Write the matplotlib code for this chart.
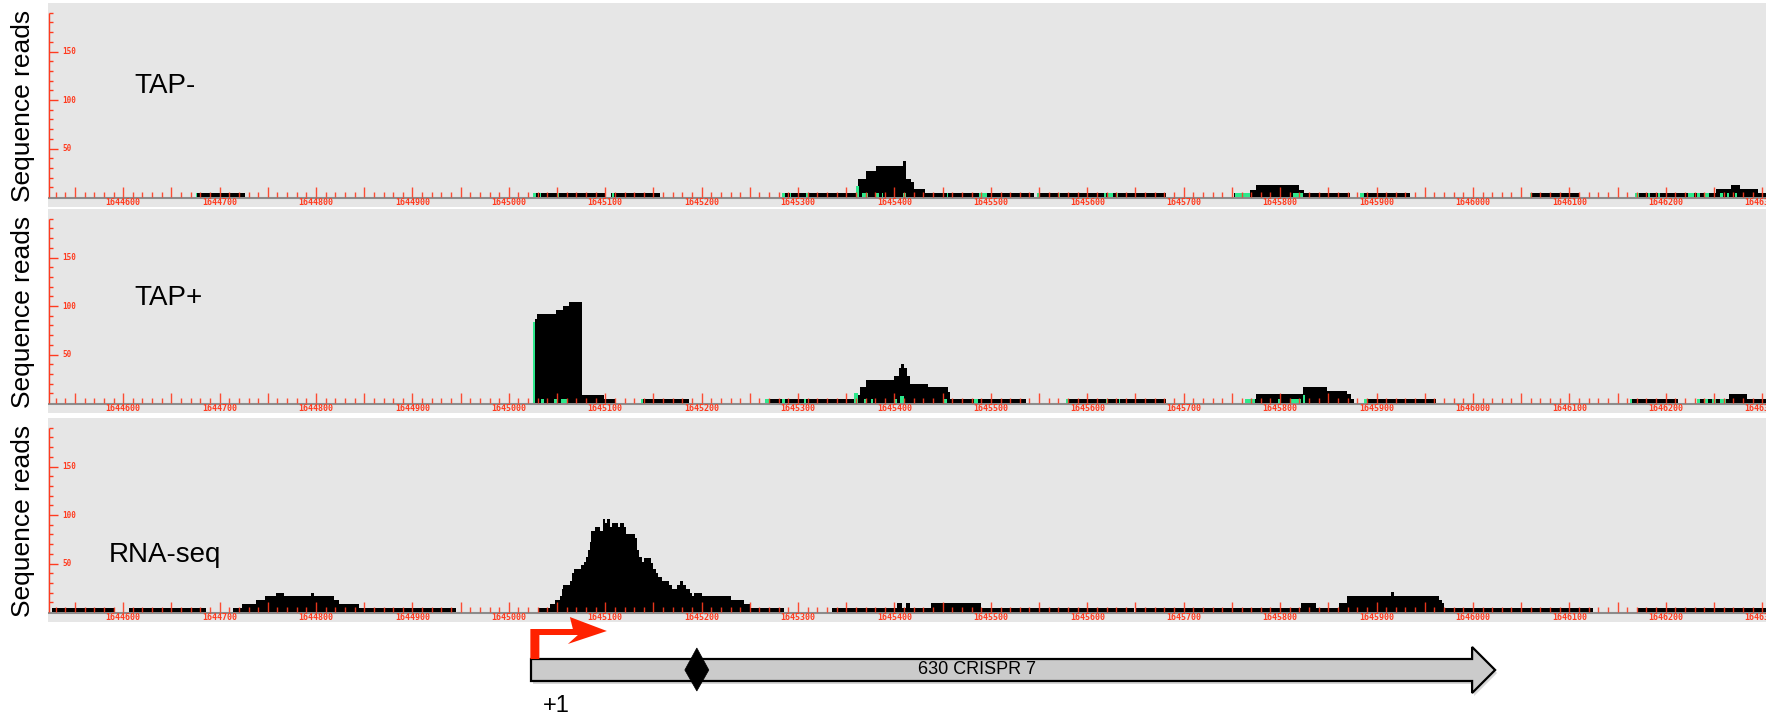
import numpy as np
import matplotlib
matplotlib.use('Agg')
import matplotlib.pyplot as plt
from matplotlib.patches import Polygon

# read coverage per track: reads[i] runs from edges[i] to edges[i+1]
tapm_edges = [1644676, 1644726, 1645025, 1645100, 1645106, 1645157, 1645283, 1645362, 1645370,
              1645381, 1645409, 1645412, 1645417, 1645420, 1645432, 1645545, 1645549, 1645682,
              1645752, 1645769, 1645775, 1645820, 1645825, 1645873, 1645883, 1645935, 1646059,
              1646110, 1646168, 1646252, 1646268, 1646277, 1646296, 1646310]
tapm_reads = [4, 0, 4, 0, 4, 0, 4, 19, 27, 32, 37, 19, 15, 8, 4, 0, 4, 0, 4, 7, 12, 7, 4, 0,
              4, 0, 4, 0, 4, 8, 12, 8, 4]

tapp_edges = [1645027, 1645029, 1645049, 1645056, 1645062, 1645076, 1645099, 1645110, 1645137,
              1645187, 1645266, 1645358, 1645364, 1645370, 1645400, 1645405, 1645407, 1645410,
              1645413, 1645416, 1645435, 1645456, 1645458, 1645536, 1645578, 1645682, 1645764,
              1645775, 1645824, 1645849, 1645869, 1645874, 1645877, 1645888, 1645962, 1646163,
              1646213, 1646234, 1646266, 1646284, 1646310]
tapp_reads = [87, 92, 96, 100, 104, 8, 4, 0, 4, 0, 4, 8, 16, 24, 28, 36, 40, 36, 28, 20, 16, 11,
              4, 0, 4, 0, 4, 9, 16, 12, 9, 4, 0, 4, 0, 4, 0, 4, 9, 4]

rna_edges = [1644526, 1644592, 1644606, 1644686, 1644714, 1644723, 1644738, 1644747, 1644759,
             1644767, 1644795, 1644798, 1644819, 1644824, 1644845, 1644945,
             1645030, 1645043, 1645048, 1645053, 1645055, 1645056, 1645063, 1645066, 1645068,
             1645075, 1645078, 1645080, 1645082, 1645084, 1645085, 1645089, 1645095, 1645098,
             1645100, 1645102, 1645105, 1645107, 1645113, 1645115, 1645119, 1645122, 1645131,
             1645133, 1645135, 1645138, 1645140, 1645147, 1645150, 1645153, 1645155, 1645159,
             1645166, 1645169, 1645174, 1645178, 1645181, 1645184, 1645188, 1645190, 1645192,
             1645200, 1645230, 1645244, 1645250, 1645285,
             1645335, 1645403, 1645408, 1645412, 1645416, 1645438, 1645490, 1645648, 1645651,
             1645822, 1645837, 1645861, 1645869, 1645915, 1645918, 1645965, 1645968, 1645970,
             1646125, 1646171, 1646310]
rna_reads = [4, 0, 4, 0, 4, 8, 12, 16, 20, 16, 20, 16, 12, 8, 4, 0,
             4, 8, 12, 16, 24, 28, 32, 40, 44, 48, 52, 57, 64, 72, 84, 88, 84, 96, 92, 96, 88,
             92, 88, 92, 88, 80, 76, 64, 57, 52, 56, 51, 44, 40, 36, 32, 28, 24, 28, 32, 28, 24,
             20, 16, 20, 16, 12, 8, 4, 0,
             4, 9, 4, 9, 4, 9, 4, 0, 4, 9, 4, 9, 17, 21, 17, 12, 9, 4, 0, 4]

# green read starts (start, end, height)
tapm_green_start = [1644675, 1645025, 1645032, 1645050, 1645107, 1645283, 1645292, 1645308, 1645360,
                    1645366, 1645381, 1645387, 1645409, 1645455, 1645488, 1645548, 1645571, 1645617,
                    1645621, 1645631, 1645753, 1645813, 1645883, 1646059, 1646168, 1646182, 1646192,
                    1646223, 1646232, 1646240, 1646256, 1646264, 1646272]
tapm_green_end = [1644677, 1645028, 1645033, 1645052, 1645109, 1645286, 1645293, 1645310, 1645363,
                  1645373, 1645384, 1645388, 1645412, 1645456, 1645496, 1645551, 1645572, 1645619,
                  1645627, 1645632, 1645769, 1645824, 1645887, 1646061, 1646172, 1646184, 1646194,
                  1646229, 1646236, 1646245, 1646259, 1646266, 1646274]
tapm_green_h = [4, 4, 4, 4, 4, 4, 4, 4, 11, 4, 4, 4, 4, 4, 4, 4, 4, 4,
                4, 4, 4, 4, 4, 4, 4, 4, 4, 4, 4, 4, 4, 4, 4]

tapp_green_start = [1645025, 1645033, 1645047, 1645054, 1645137, 1645266, 1645283, 1645306, 1645358,
                    1645368, 1645376, 1645400, 1645406, 1645451, 1645483, 1645578, 1645619, 1645633,
                    1645764, 1645798, 1645811, 1645824, 1645887, 1646163, 1646232, 1646240, 1646248,
                    1646256]
tapp_green_end = [1645027, 1645036, 1645050, 1645060, 1645139, 1645270, 1645286, 1645308, 1645362,
                  1645370, 1645378, 1645403, 1645410, 1645454, 1645487, 1645580, 1645621, 1645634,
                  1645774, 1645800, 1645822, 1645826, 1645890, 1646165, 1646236, 1646244, 1646252,
                  1646262]
tapp_green_h = [84, 4, 4, 4, 4, 4, 4, 4, 10, 4, 4, 4, 7, 4, 4, 4, 4, 4,
                4, 4, 4, 8, 4, 4, 4, 4, 4, 4]

track_names = ['TAP-', 'TAP+', 'RNA-seq']
ylabel = 'Sequence reads'

# gene annotation
gene_start, gene_end = 1645023, 1646023
gene_name = '630 CRISPR 7'
tss = 1645027
crispr_site = 1645195

# layout (pixels)
W, H = 1766, 715
x_left, x_right = 1644522, 1646304
px = (x_right - x_left) / (W - 48)   # bp per pixel
panel_tops = [3, 209, 418]
panel_h = 204
red = '#ff3b1f'
sans = ['Liberation Sans', 'DejaVu Sans']

fig = plt.figure(figsize=(W / 100, H / 100), dpi=100)


def draw_track(top, edges, reads, g_start, g_end, g_h, name, name_x, name_y, name_size):
    ax = fig.add_axes([48 / W, 1 - (top + panel_h) / H, (W - 48) / W, panel_h / H])
    ax.set_facecolor('#e6e6e6')
    ax.set_xlim(x_left, x_right)
    ax.set_ylim(-10.3, 200)
    for s in ax.spines.values():
        s.set_visible(False)
    ax.set_xticks([])
    ax.set_yticks([])

    ax.fill_between(edges, np.append(reads, 0), step='post', color='black', lw=0, zorder=2)
    if g_start:
        ax.bar(g_start, g_h, width=np.subtract(g_end, g_start), align='edge',
               color='#2ee88c', lw=0, zorder=3)

    # baseline
    ax.axhline(-1.0, color='#8c8c8c', lw=1.5, zorder=1)

    # x ruler
    xt = np.arange(1644530, 1646310, 10)
    ax.vlines(xt, 0, np.where(xt % 50 == 0, 10, 5), color=red, lw=1, alpha=0.9, zorder=4)
    for v in range(1644600, 1646301, 100):
        ax.text(v, -5.8, str(v), ha='center', va='center', fontsize=6, fontweight='bold',
                family='DejaVu Sans Mono', color=red, clip_on=True)

    # y ruler
    yt = np.arange(10, 200, 10)
    ax.vlines(x_left + 0.6 * px, 0, 190, color=red, lw=1, zorder=4)
    ax.hlines(yt, x_left + 0.6 * px, x_left + np.where(yt % 50 == 0, 10, 5) * px,
              color=red, lw=1, zorder=4)
    for v in (50, 100, 150):
        ax.text(x_left + 14 * px, v, str(v), ha='left', va='center', fontsize=5.5,
                fontweight='bold', family='DejaVu Sans Mono', color=red)

    ax.text(x_left + name_x * px, name_y, name, ha='left', va='baseline',
            fontsize=name_size, family=sans, color='black')

    fig.text(23 / W, 1 - (top + 103) / H, ylabel, rotation=90, ha='center', va='center',
             fontsize=19, family=sans)
    return ax


draw_track(panel_tops[0], tapm_edges, tapm_reads, tapm_green_start, tapm_green_end, tapm_green_h,
           track_names[0], 86, 107, 20)
draw_track(panel_tops[1], tapp_edges, tapp_reads, tapp_green_start, tapp_green_end, tapp_green_h,
           track_names[1], 86, 101, 20)
draw_track(panel_tops[2], rna_edges, rna_reads, [], [], [],
           track_names[2], 61, 52, 20)

# gene track, 1 unit = 1 pixel
gx = fig.add_axes([48 / W, 0, (W - 48) / W, 100 / H])
gx.set_xlim(x_left, x_right)
gx.set_ylim(0, 100)
gx.axis('off')

head = 23 * px
body = [(gene_start, 34), (gene_end - head, 34), (gene_end - head, 22), (gene_end, 45),
        (gene_end - head, 68), (gene_end - head, 56), (gene_start, 56)]
shadow = [(x + 2 * px, y - 3) for x, y in body]
gx.add_patch(Polygon(shadow, closed=True, facecolor='#b0b0b0', edgecolor='none', alpha=0.5))
gx.add_patch(Polygon(body, closed=True, facecolor='#cbcbcb', edgecolor='black', lw=1.6,
                     joinstyle='miter'))

diamond = [(crispr_site, 24), (crispr_site + 12 * px, 45), (crispr_site, 67),
           (crispr_site - 12 * px, 45)]
gx.add_patch(Polygon(diamond, closed=True, facecolor='black', edgecolor='black', lw=0.5))

hb = tss + 38 * px
tip = tss + 72 * px
x0, x1 = tss - 4.5 * px, tss + 4.5 * px
tss_arrow = [(x0, 56), (x0, 86), (hb, 86), (hb - 3 * px, 98), (tip, 84), (hb - 5 * px, 71),
             (hb + 5 * px, 80), (x1, 80), (x1, 56)]
gx.add_patch(Polygon(tss_arrow, closed=True, facecolor='#ff2200', edgecolor='none'))

gx.text(tss + 21 * px, 9, '+1', ha='center', va='center', fontsize=17, family=sans)
gx.text(gene_start + 0.463 * (gene_end - gene_start), 45, gene_name, ha='center', va='center',
        fontsize=13, family=sans)

fig.savefig('out.png', dpi=100)
